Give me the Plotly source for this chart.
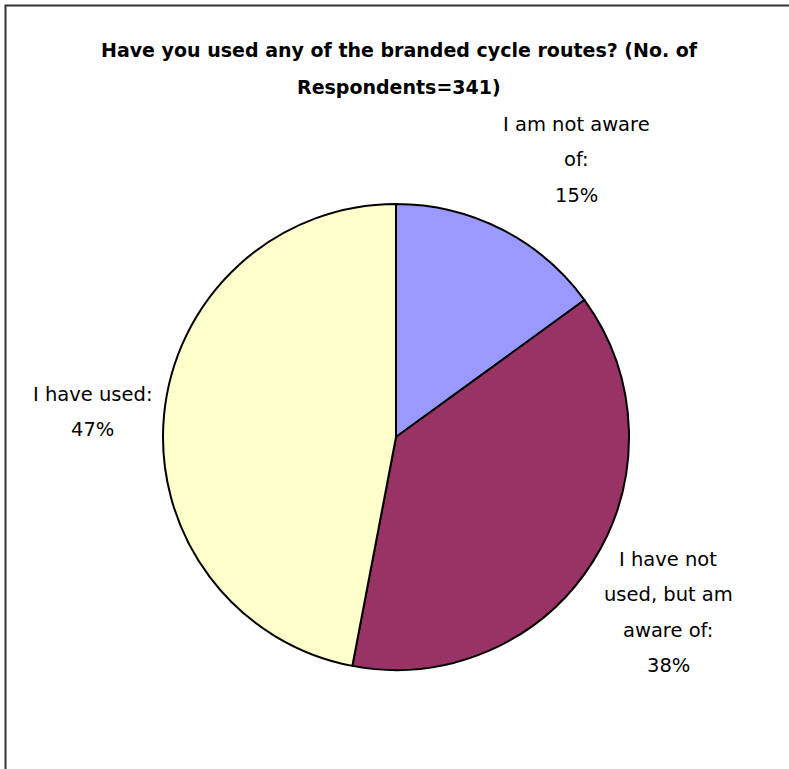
import math
import plotly.graph_objects as go

# Survey answers, in the order the slices are drawn (clockwise from 12 o'clock)
categories = ["I am not aware of:", "I have not used, but am aware of:", "I have used:"]
label_lines = [
    ["I am not aware", "of:"],
    ["I have not", "used, but am", "aware of:"],
    ["I have used:"],
]
shares = [15, 38, 47]
colors = ["#9999FF", "#993366", "#FFFFCC"]
title_lines = ["Have you used any of the branded cycle routes? (No. of", "Respondents=341)"]

W, H = 789, 769
CX, CY, R = 396, 437, 233          # pie centre and radius in pixels
LABEL_DIST = 320                   # distance from centre to label block centre
LABEL_NUDGE = [(35, 8), (2, 4), (15, 5)]   # pixel tweaks of each label block
LINE_H = 35.5                      # line spacing of the labels
FONT = "DejaVu Sans"

fig = go.Figure(
    go.Pie(
        labels=categories,
        values=shares,
        sort=False,
        direction="clockwise",
        rotation=0,
        marker=dict(colors=colors, line=dict(color="black", width=2)),
        textinfo="none",
        hoverinfo="label+percent",
        showlegend=False,
        domain=dict(
            x=[(CX - R) / W, (CX + R) / W],
            y=[(H - CY - R) / H, (H - CY + R) / H],
        ),
    )
)

annotations = []

# Outside labels: one block per slice, placed along the slice's mid-angle
total = sum(shares)
cum = 0
for lines, v, (nx, ny) in zip(label_lines, shares, LABEL_NUDGE):
    mid = (cum + v / 2) / total * 2 * math.pi
    cum += v
    bx = CX + LABEL_DIST * math.sin(mid) + nx
    by = CY - LABEL_DIST * math.cos(mid) + ny
    block = lines + [f"{round(v / total * 100)}%"]
    n = len(block)
    for i, txt in enumerate(block):
        ly = by + (i - (n - 1) / 2) * LINE_H
        annotations.append(dict(
            x=bx / W, y=1 - ly / H, xref="paper", yref="paper",
            text=txt, showarrow=False, xanchor="center", yanchor="middle",
            font=dict(family=FONT, size=19.5, color="black"),
        ))

# Two-line bold title
for i, txt in enumerate(title_lines):
    annotations.append(dict(
        x=399 / W, y=1 - (50 + i * 37) / H, xref="paper", yref="paper",
        text=f"<b>{txt}</b>", showarrow=False, xanchor="center", yanchor="middle",
        font=dict(family=FONT, size=19, color="black"),
    ))

# Frame drawn as one open path: left edge up, then along the top
fx, fy = 5.5 / W, 1 - 5.5 / H
frame_path = f"M {fx},0 L {fx},{fy} L 1,{fy}"
fig.update_layout(
    width=W, height=H,
    margin=dict(l=0, r=0, t=0, b=0),
    paper_bgcolor="white",
    plot_bgcolor="white",
    annotations=annotations,
    shapes=[dict(type="path", xref="paper", yref="paper", path=frame_path,
                 line=dict(color="#333333", width=2))],
)

# keep the page from scrolling so no scrollbar is drawn over the chart
fig.write_html(
    "out.html",
    config={"displayModeBar": False},
    post_script="document.documentElement.style.overflow='hidden';"
                "document.body.style.overflow='hidden';document.body.style.margin='0';",
)
